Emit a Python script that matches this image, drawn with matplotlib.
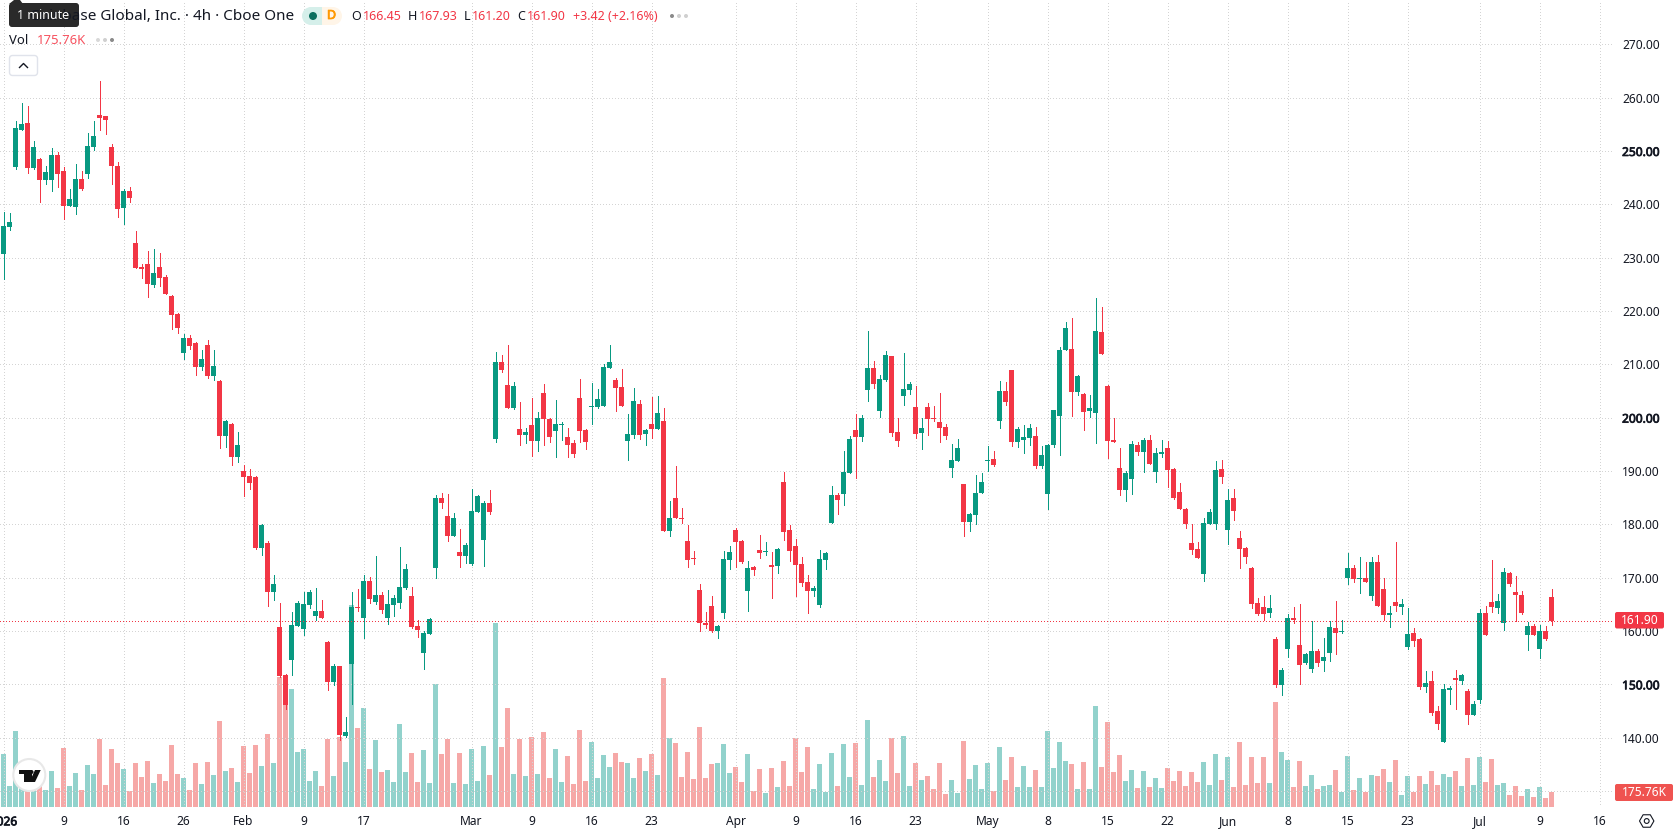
import numpy as np
import matplotlib.pyplot as plt
import matplotlib.patheffects as pe
from matplotlib.patches import Circle, FancyBboxPatch, Polygon, Rectangle, RegularPolygon

plt.rcParams['font.family'] = ['Noto Sans', 'DejaVu Sans']

# Daily candles
opens = [
    230.7,235.7,247.0,253.9,255.2,246.8,248.5,244.5,244.5,249.2,
    246.2,239.7,239.5,244.7,245.7,250.7,256.7,256.5,250.7,247.2,
    239.3,242.5,232.7,228.2,228.8,224.9,228.2,226.4,222.8,219.4,
    212.1,214.9,214.0,209.5,213.6,207.8,206.9,196.5,198.8,192.6,
    190.0,189.0,188.9,175.5,176.5,167.3,160.7,151.7,154.5,160.9,
    160.4,164.9,162.8,163.7,157.9,150.4,153.4,140.3,153.8,164.5,
    162.4,169.4,165.4,166.7,162.4,164.9,165.2,168.0,166.5,160.9,
    155.9,159.4,171.8,184.9,181.5,177.8,174.8,174.0,172.5,182.3,
    177.0,184.0,196.0,210.4,206.1,201.8,197.9,196.7,198.6,195.6,
    204.6,199.7,197.5,198.6,196.4,195.2,203.7,197.7,202.0,202.0,
    202.2,209.3,207.0,205.7,195.6,196.7,202.5,196.9,198.8,197.9,
    199.4,178.7,184.9,181.2,176.9,173.7,167.7,161.5,164.7,160.0,
    163.4,173.3,178.9,176.9,167.5,172.0,175.2,174.8,172.4,172.2,
    187.9,178.9,175.9,172.5,169.2,167.5,164.9,173.3,180.2,185.5,
    185.7,189.6,197.7,196.4,205.2,209.3,201.2,207.0,211.5,197.3,
    204.0,205.2,202.0,197.1,202.0,199.9,199.2,198.2,190.5,191.9,
    187.5,180.4,181.7,185.9,191.9,192.2,199.4,205.0,208.9,195.4,
    195.8,196.2,196.5,190.9,185.7,194.9,200.3,212.7,212.9,204.8,
    204.4,201.2,200.9,216.0,205.9,195.8,190.5,186.4,188.5,194.9,
    193.5,195.8,189.8,193.2,194.3,190.4,186.0,182.9,176.5,175.4,
    170.7,180.0,180.0,190.4,178.9,184.9,177.4,175.5,171.8,165.2,
    164.5,163.4,158.5,149.9,156.6,162.4,157.4,154.0,152.9,156.2,
    154.4,155.9,160.5,159.8,169.9,171.8,169.7,169.9,166.5,172.9,
    167.9,163.0,165.4,164.5,157.0,159.6,158.5,149.5,150.6,145.0,
    139.2,148.9,151.2,150.6,148.7,144.2,147.0,163.4,165.4,164.3,
    161.5,170.9,167.3,166.7,159.2,160.9,156.6,160.0,166.45,
]
closes = [
    235.9,236.7,254.3,255.0,246.8,250.7,244.5,246.0,249.2,245.7,
    239.7,241.0,244.7,242.9,250.9,252.8,256.2,255.8,247.2,239.1,
    242.5,241.2,228.0,227.9,225.0,227.1,226.2,223.2,219.2,216.8,
    214.9,213.4,209.5,211.0,207.8,209.7,196.6,199.4,192.6,194.9,
    188.9,187.7,175.5,179.9,167.3,168.8,151.5,146.1,161.1,165.2,
    165.0,167.3,163.7,162.4,150.4,153.4,140.5,141.0,164.5,164.3,
    169.4,166.0,166.7,163.9,165.0,166.2,168.2,171.6,160.7,160.2,
    159.6,162.2,184.9,184.0,177.8,181.2,174.0,176.1,182.5,185.3,
    184.0,182.3,210.4,208.9,201.8,205.9,196.7,197.3,195.6,199.9,
    199.7,196.4,198.8,198.8,194.9,193.2,197.5,195.4,202.2,203.5,
    209.5,210.4,205.5,202.2,196.9,203.1,196.7,197.7,197.9,200.9,
    178.7,181.2,181.2,181.0,173.3,173.5,161.5,161.1,160.0,160.9,
    173.5,174.8,176.7,172.9,171.8,171.4,174.6,175.0,172.0,175.4,
    178.6,175.0,172.4,169.0,167.5,168.0,173.5,174.6,185.5,184.5,
    189.8,196.0,196.4,199.9,209.3,206.3,207.2,211.7,197.1,195.6,
    205.4,206.3,196.9,198.0,199.7,199.7,198.0,196.5,192.0,194.3,
    180.4,181.9,185.9,187.9,192.0,191.1,205.0,202.9,195.4,197.9,
    196.4,198.0,190.9,193.0,194.9,201.4,212.7,216.8,204.8,207.8,
    201.0,201.8,216.2,211.9,195.6,195.4,186.4,189.6,195.0,193.5,
    195.8,191.3,193.4,193.5,190.2,184.9,182.9,180.0,175.2,173.7,
    180.2,182.3,190.2,188.9,184.5,182.5,175.4,173.9,165.0,163.2,
    163.2,164.3,149.9,152.7,162.4,162.0,153.6,155.7,156.2,154.0,
    155.1,160.7,159.6,160.0,171.8,169.7,169.9,169.2,172.9,164.7,
    163.0,163.4,164.7,165.0,159.4,158.1,149.5,150.2,144.6,142.5,
    149.1,149.3,150.8,151.7,144.2,146.3,163.4,159.2,164.5,165.6,
    171.0,168.8,166.7,163.4,160.9,159.2,160.0,158.5,161.90,
]
highs = [
    238.5,238.4,255.6,259.0,258.4,251.9,248.7,247.2,250.5,249.8,
    247.0,242.9,247.5,246.2,253.4,255.6,263.1,256.6,251.3,247.9,
    242.9,243.2,235.0,228.8,231.2,231.6,230.9,226.7,223.0,219.6,
    215.7,215.5,214.1,212.7,214.5,212.7,207.0,199.6,199.0,197.3,
    191.1,190.4,189.0,180.1,176.9,170.5,165.2,151.9,163.5,165.6,
    167.3,167.7,168.0,165.8,158.1,153.8,153.4,143.9,167.3,167.9,
    170.5,170.1,174.0,167.3,167.7,166.7,175.7,172.5,168.2,162.0,
    160.0,162.4,185.5,185.9,185.7,182.1,179.1,176.5,186.6,185.5,
    184.4,186.4,212.3,211.7,213.6,206.7,202.9,198.0,203.7,201.0,
    206.3,199.9,203.3,199.2,198.0,195.8,207.2,197.9,206.5,205.4,
    210.0,213.6,207.4,209.1,200.7,205.5,203.3,197.9,203.9,204.0,
    201.8,184.4,190.9,183.0,179.9,175.0,168.8,163.5,166.5,161.1,
    175.0,175.9,179.3,177.0,173.1,172.2,178.0,176.7,174.8,175.5,
    189.8,179.9,177.2,173.9,170.5,168.4,175.2,174.8,187.2,185.9,
    193.7,196.5,200.7,200.5,216.2,210.6,208.0,212.5,211.6,199.9,
    212.1,206.7,205.9,199.9,202.7,202.2,204.6,198.8,195.0,196.0,
    187.6,182.1,189.2,189.6,194.7,193.7,206.9,206.7,209.0,198.2,
    198.6,198.8,198.2,194.7,195.0,201.5,213.2,217.9,218.7,208.0,
    204.6,204.2,222.4,220.7,206.1,199.9,194.3,190.0,195.6,195.4,
    196.2,196.7,194.3,195.8,195.6,190.5,187.7,183.0,180.0,176.7,
    181.2,182.9,191.9,192.0,186.6,186.6,178.7,175.7,172.0,166.2,
    166.5,166.7,158.9,153.0,163.2,164.5,165.0,155.9,161.9,156.6,
    158.7,161.9,165.6,162.0,174.6,172.4,173.9,172.9,173.9,174.2,
    169.9,164.7,176.7,166.0,164.3,160.5,158.7,152.5,152.5,145.9,
    150.0,149.7,152.7,151.9,149.1,146.9,164.1,164.7,173.3,166.9,
    171.8,171.0,170.3,167.5,161.7,161.3,161.1,160.9,167.93,
]
lows = [
    226.0,235.2,246.6,253.9,245.9,246.6,240.4,243.8,242.5,243.2,
    237.2,239.7,238.2,242.7,244.9,250.2,253.9,253.2,243.8,237.6,
    236.3,240.4,228.0,226.2,222.6,224.5,224.7,223.2,216.6,215.9,
    211.0,212.9,208.0,208.9,207.4,207.0,194.3,194.5,191.1,191.7,
    185.3,186.6,175.4,174.2,164.7,165.8,151.4,145.4,151.7,160.9,
    159.2,164.3,162.0,162.4,148.9,149.9,139.5,140.1,146.3,163.7,
    158.7,165.2,165.0,163.4,161.3,162.8,164.3,167.9,160.5,158.9,
    152.9,159.4,169.9,183.0,176.9,177.8,172.0,172.7,172.4,182.3,
    172.2,181.9,195.4,208.5,201.8,201.6,194.9,195.2,192.8,193.7,
    194.9,195.4,192.6,195.8,192.6,192.6,195.4,194.1,198.8,201.8,
    202.2,209.3,201.2,202.2,192.0,196.2,196.0,194.9,196.2,197.9,
    178.7,177.8,181.2,180.2,172.0,172.5,160.0,160.5,159.8,158.7,
    162.4,171.6,172.0,172.7,163.7,170.5,173.7,174.2,166.2,170.9,
    177.0,173.1,166.5,168.4,163.4,166.5,164.5,171.6,180.2,181.9,
    183.6,189.6,188.7,195.6,203.1,205.5,200.1,206.9,196.5,194.7,
    202.4,204.4,196.2,194.1,196.7,199.4,195.4,196.0,188.9,191.9,
    177.8,178.7,180.0,185.9,190.0,190.9,198.0,202.4,194.7,194.5,
    193.4,194.9,190.5,190.5,182.9,194.5,193.0,212.7,200.3,204.2,
    197.7,200.1,195.2,211.9,192.4,195.4,185.5,184.4,185.7,193.0,
    189.8,191.3,187.9,192.6,187.0,184.7,182.9,179.3,174.4,173.7,
    169.4,180.0,179.1,187.7,176.3,180.8,171.8,172.7,164.3,163.0,
    162.0,162.6,149.5,148.0,155.1,161.5,150.0,153.8,152.3,153.4,
    152.5,154.4,155.7,159.6,168.8,169.2,167.1,169.2,165.8,164.7,
    162.0,160.7,163.7,163.2,156.6,157.2,149.1,148.5,144.2,141.6,
    139.2,146.3,145.4,150.0,142.5,144.2,146.5,159.2,163.5,163.4,
    160.2,168.4,161.9,163.2,156.4,159.2,154.9,158.3,161.20,
]
# Volume in thousands of shares
volumes = [
    632,248,908,320,280,280,280,200,428,224,
    704,248,404,200,500,392,812,260,692,524,
    452,188,524,356,548,284,392,308,740,392,
    344,200,524,272,536,380,1028,428,464,296,
    728,404,740,488,872,524,1560,1520,1412,656,
    692,308,428,248,812,368,840,536,2420,944,
    1184,452,800,416,440,296,992,420,648,300,
    684,288,1476,636,816,288,648,276,696,312,
    732,384,2208,720,1188,396,816,372,840,396,
    900,348,696,300,612,276,924,312,780,348,
    624,480,648,540,528,348,588,432,636,384,
    1548,828,768,360,660,336,960,348,516,528,
    756,408,480,300,636,192,456,168,468,240,
    552,252,828,420,720,216,516,180,648,252,
    756,360,768,264,1044,360,564,312,828,408,
    852,252,528,324,372,216,528,156,324,168,
    792,336,504,216,528,192,720,324,600,240,
    492,240,444,240,912,468,780,552,516,216,
    540,216,1212,480,1020,420,624,312,444,228,
    432,240,348,228,468,312,432,252,420,300,
    540,264,636,324,600,240,780,264,600,288,
    600,288,1260,660,564,240,552,252,384,216,
    252,264,444,180,612,204,348,180,384,372,
    456,300,564,144,372,180,372,276,432,264,
    396,360,432,252,588,264,600,300,576,264,
    288,144,252,132,216,120,240,108,175.76,
]

# Time axis, positions are bar numbers
time_ticks = [0, 10, 20, 30, 40, 50, 60, 78, 88, 98, 108, 122, 132, 142, 152,
              164, 174, 184, 194, 204, 214, 224, 234, 246, 256, 266]
time_labels = ['2026', '9', '16', '26', 'Feb', '9', '17', 'Mar', '9', '16', '23', 'Apr', '9',
               '16', '23', 'May', '8', '15', '22', 'Jun', '8', '15', '23', 'Jul', '9', '16']
price_ticks = list(range(130, 280, 10))
bold_prices = [150, 200, 250]

last_price = closes[-1]
last_volume = volumes[-1]

GREEN = '#089981'
RED = '#F23645'
VOL_GREEN = '#26A69A'
VOL_RED = '#EF5350'
GRID = '#d4d4d4'
TEXT = '#131722'

W, H = 1678, 835
pane_right, pane_bottom = 1614, 807

# Noto Sans here has no heavier cut, so thicken the outline for bold labels
heavy = [pe.withStroke(linewidth=0.55, foreground=TEXT)]
dotted = (0, (0.5, 2.5))

fig = plt.figure(figsize=(W / 100, H / 100), dpi=100)
rect = [0, (H - pane_bottom) / H, pane_right / W, pane_bottom / H]

x = np.arange(len(closes))
o, h, l, c = map(np.array, (opens, highs, lows, closes))
up = c >= o
colors = np.where(up, GREEN, RED)
vol_colors = np.where(up, VOL_GREEN, VOL_RED)
xlim = (-3.5 / 6, (pane_right - 3.5) / 6)

# Volume sits under the price pane on its own scale
ax_vol = fig.add_axes(rect, zorder=1)
ax_vol.bar(x, volumes, width=5 / 6, color=vol_colors, alpha=0.5, linewidth=0)
ax_vol.set_xlim(xlim)
ax_vol.set_ylim(0, pane_bottom * 12)
ax_vol.axis('off')

ax = fig.add_axes(rect, zorder=2)
ax.patch.set_visible(False)
ax.set_xlim(xlim)
ax.set_ylim(127.0, 278.3)
for side in ax.spines.values():
    side.set_visible(False)

ax.set_axisbelow(True)
ax.grid(True, color=GRID, linewidth=0.72, linestyle=dotted, antialiased=False)

ax.set_xticks(time_ticks)
ax.set_xticklabels(time_labels, fontsize=8.64, color=TEXT)
ax.xaxis.get_ticklabels()[0].set_path_effects(heavy)
ax.tick_params(axis='x', length=0, pad=6)

ax.yaxis.tick_right()
ax.set_yticks(price_ticks)
ax.set_yticklabels(['' if p == 130 else f'{p:.2f}' for p in price_ticks], fontsize=8.64, color=TEXT)
for p, lab in zip(price_ticks, ax.yaxis.get_ticklabels()):
    if p in bold_prices:
        lab.set_path_effects(heavy)
ax.tick_params(axis='y', length=0, pad=5.8)

# Candles: wicks first, bodies on top
ax.vlines(x, l, h, colors=colors, linewidth=0.72, antialiased=False, zorder=3)
body_low = np.minimum(o, c)
body_height = np.maximum(np.abs(c - o), 0.19)
ax.bar(x, body_height, bottom=body_low, width=5 / 6, color=colors, linewidth=0, antialiased=False, zorder=4)

ax.axhline(last_price, color=RED, linewidth=0.72, linestyle=dotted, antialiased=False, zorder=5)

# Header, labels and icons are laid out in pixels on a top layer
ov = fig.add_axes([0, 0, 1, 1], zorder=3)
ov.set_xlim(0, W)
ov.set_ylim(H, 0)
ov.axis('off')


def box(x0, y0, x1, y1, face, edge='none', lw=0, rad=2.0):
    ov.add_patch(FancyBboxPatch((x0 + rad, y0 + rad), x1 - x0 - 2 * rad, y1 - y0 - 2 * rad,
                                boxstyle=f'round,pad={rad},rounding_size={rad}',
                                facecolor=face, edgecolor=edge, linewidth=lw))


def label(px, py, s, color=TEXT, size=9.0, ha='left'):
    return ov.text(px, py, s, color=color, fontsize=size, ha=ha, va='center')


label(294, 16, 'Coinbase Global, Inc. · 4h · Cboe One', size=11, ha='right')

# Tooltip over the start of the title
ov.add_patch(Polygon([(9, 4), (14, 0), (20, 0), (23, 4)], facecolor='#2a2a2a', edgecolor='none'))
box(9, 3, 79, 27, '#2a2a2a', rad=3)
label(43, 15.5, '1 minute', color='white', size=9.0, ha='center')

# Market status pills
ov.add_patch(Rectangle((312, 7), 10, 18, facecolor='#d5efea', edgecolor='none'))
ov.add_patch(Circle((311, 16), 9, facecolor='#d5efea', edgecolor='none'))
ov.add_patch(Rectangle((322, 7), 10, 18, facecolor='#fff5e8', edgecolor='none'))
ov.add_patch(Circle((333, 16), 9, facecolor='#fff5e8', edgecolor='none'))
ov.add_patch(Circle((313, 16), 4, facecolor='#0b6e5e', edgecolor='none'))
d_mark = label(331.5, 15.5, 'D', color='#ff9800', size=9, ha='center')
d_mark.set_path_effects([pe.withStroke(linewidth=0.55, foreground='#ff9800')])

# OHLC readout
for px, s in [(351, 'O'), (408, 'H'), (464, 'L'), (517, 'C')]:
    label(px, 16, s)
for px, s in [(362.5, f'{opens[-1]:.2f}'), (418.5, f'{highs[-1]:.2f}'),
              (472, f'{lows[-1]:.2f}'), (527, f'{closes[-1]:.2f}'),
              (573, '+3.42 (+2.16%)')]:
    label(px, 16, s, color=RED)
for px, dot in [(672, '#8a8a8a'), (679, '#d0d0d0'), (686, '#d0d0d0')]:
    ov.add_patch(Circle((px, 16), 2, facecolor=dot, edgecolor='none'))

# Volume legend
label(9, 40, 'Vol', size=9.4)
label(37, 40, '175.76K', color='#f7525f', size=9.4)
for px, dot in [(98, '#d8d8d8'), (105, '#d0d0d0'), (112, '#8a8a8a')]:
    ov.add_patch(Circle((px, 40), 2, facecolor=dot, edgecolor='none'))

# Collapse button
box(9.5, 55.5, 37.5, 75.5, 'white', edge='#e0e3eb', lw=1, rad=3)
ov.plot([19.5, 23.5, 27.5], [67.5, 63.5, 67.5], color=TEXT, linewidth=1)

# Last price and last volume tags
box(1615, 612, 1664, 628.5, RED, rad=2)
label(1639.5, 620, f'{last_price:.2f}', color='white', size=8.64, ha='center')
box(1615, 784, 1673, 801, VOL_RED, rad=2)
label(1644, 792.5, f'{last_volume:.2f}K', color='white', size=8.64, ha='center')

# Logo badge
ov.add_patch(Circle((29.3, 775), 16, facecolor='white', edgecolor='#e8e8e8', linewidth=1.5))
ov.add_patch(Polygon([(19, 770), (32, 770), (32, 782), (24, 782), (24, 774), (19, 774)],
                     facecolor='#111111', edgecolor='none'))
ov.add_patch(Circle((31.5, 772), 2, facecolor='#111111', edgecolor='none'))
ov.add_patch(Polygon([(35, 770), (40.7, 770), (35, 782), (29.5, 782)], facecolor='#111111', edgecolor='none'))

# Settings icon
ov.add_patch(RegularPolygon((1646.7, 821), 6, radius=7.2, orientation=np.pi / 6,
                            facecolor='none', edgecolor=TEXT, linewidth=0.8))
ov.add_patch(Circle((1646.7, 821), 2.4, facecolor='none', edgecolor=TEXT, linewidth=0.8))

fig.savefig('out.png', dpi=100)
